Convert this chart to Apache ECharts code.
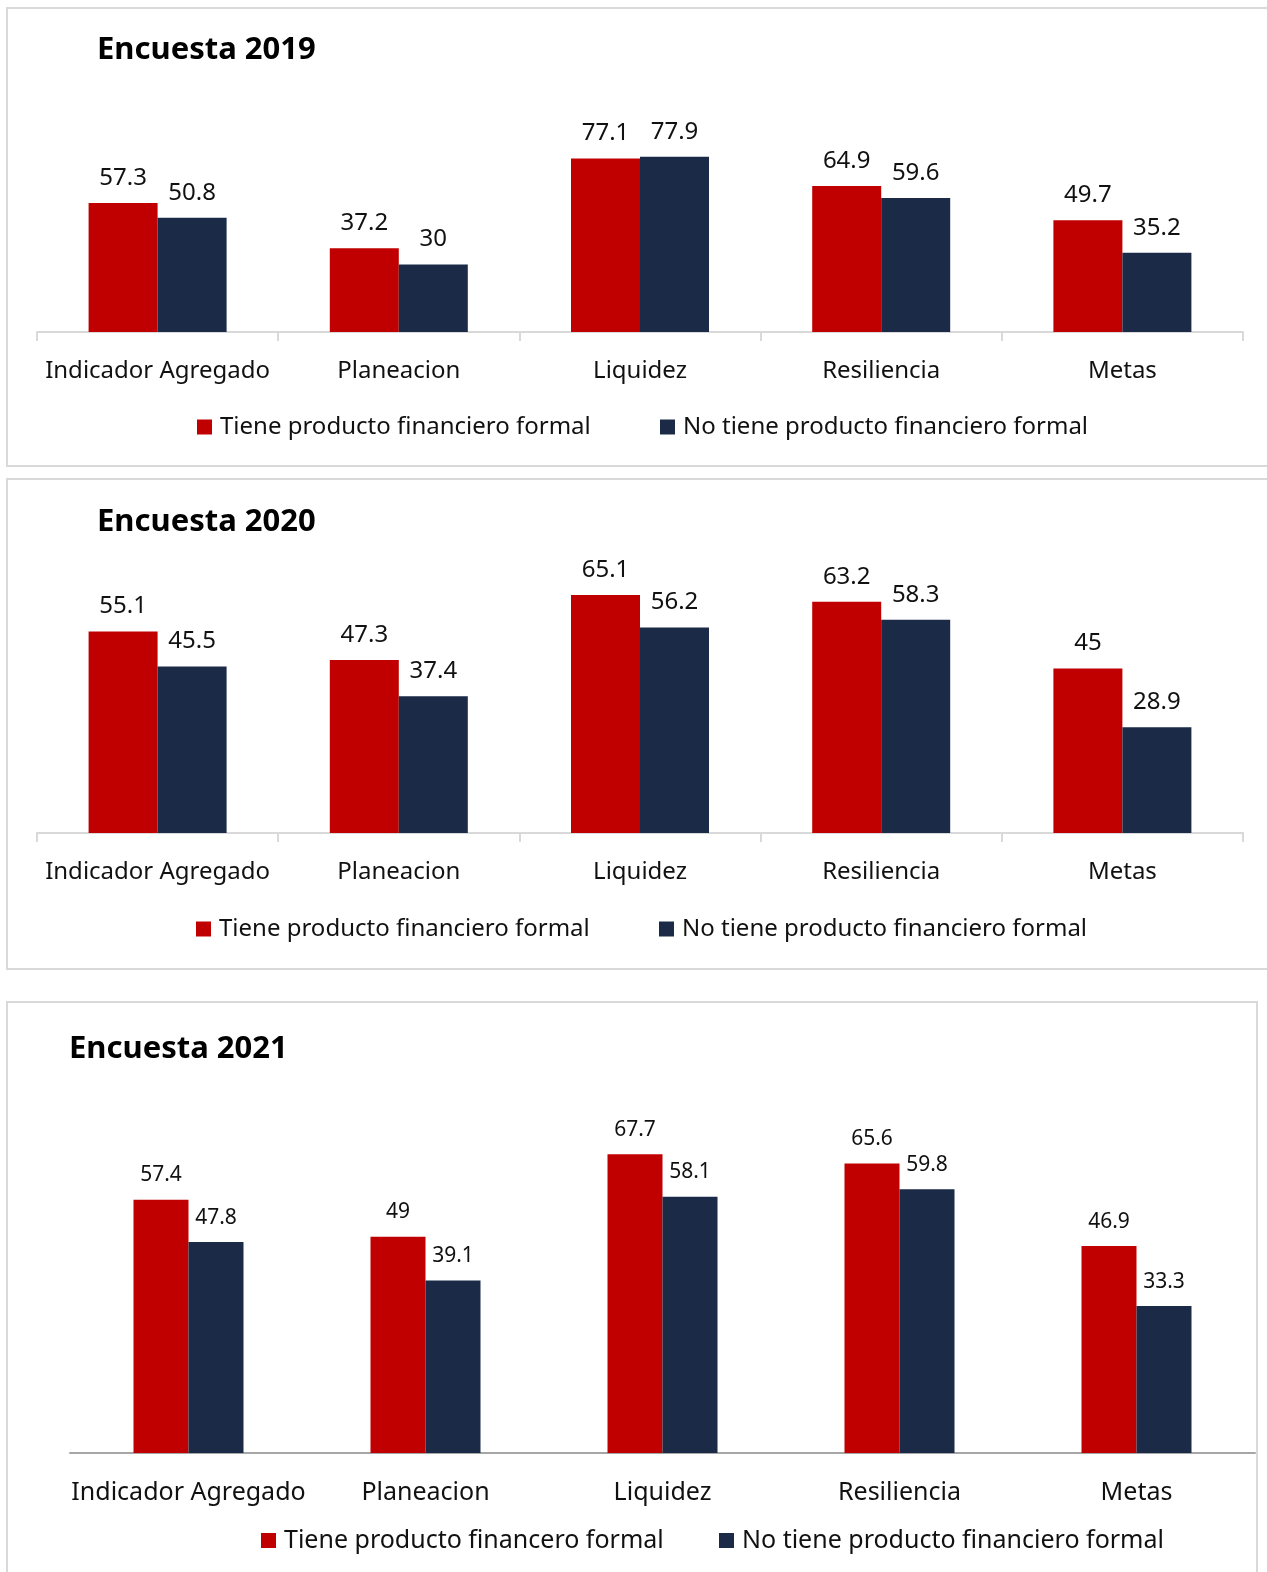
<!DOCTYPE html>
<html>
<head>
<meta charset="utf-8">
<script src="https://cdn.jsdelivr.net/npm/echarts@6/dist/echarts.min.js"></script>
<style>
  html, body { margin: 0; padding: 0; background: #ffffff; overflow: hidden; }
  body { width: 1267px; height: 1572px; position: relative; }
  .frame { position: absolute; border: 2px solid #d9d9d9; box-sizing: border-box; }
  .chart { position: absolute; left: 0; width: 1267px; }
</style>
</head>
<body>
<div class="frame" style="left:6px; top:7px; width:1300px; height:460px;"></div>
<div class="frame" style="left:6px; top:478px; width:1300px; height:492px;"></div>
<div class="frame" style="left:6px; top:1001px; width:1252px; height:620px;"></div>
<div id="chart2019" class="chart" style="top:0px; height:470px;"></div>
<div id="chart2020" class="chart" style="top:470px; height:500px;"></div>
<div id="chart2021" class="chart" style="top:990px; height:582px;"></div>
<script>
// categorias y valores
const categories = ['Indicador Agregado', 'Planeacion', 'Liquidez', 'Resiliencia', 'Metas'];

const tiene2019 = [57.3, 37.2, 77.1, 64.9, 49.7];
const noTiene2019 = [50.8, 30, 77.9, 59.6, 35.2];

const tiene2020 = [55.1, 47.3, 65.1, 63.2, 45];
const noTiene2020 = [45.5, 37.4, 56.2, 58.3, 28.9];

const tiene2021 = [57.4, 49, 67.7, 65.6, 46.9];
const noTiene2021 = [47.8, 39.1, 58.1, 59.8, 33.3];

const nameTiene = 'Tiene producto financiero formal';
const nameNoTiene = 'No tiene producto financiero formal';
const nameTiene2021 = 'Tiene producto financero formal'; // asi aparece en la leyenda de 2021

const RED = '#C00000';
const NAVY = '#1B2A47';
const FONT = '"Noto Sans", sans-serif';

const buildOption = (cfg) => ({
  animation: false,
  textStyle: { fontFamily: FONT },
  title: {
    text: cfg.title,
    left: cfg.titleLeft,
    top: cfg.titleTop,
    padding: 0,
    textStyle: { fontFamily: FONT, fontSize: 31, fontWeight: 'bold', color: '#000' }
  },
  legend: [
    {
      data: [cfg.names[0]],
      left: cfg.legendLeft[0],
      top: cfg.legendTop,
      padding: 0,
      icon: 'rect',
      itemWidth: 15,
      itemHeight: 15,
      textStyle: { fontFamily: FONT, fontSize: cfg.legendSize, color: '#111', padding: [0, 0, 0, 3] }
    },
    {
      data: [cfg.names[1]],
      left: cfg.legendLeft[1],
      top: cfg.legendTop,
      padding: 0,
      icon: 'rect',
      itemWidth: 15,
      itemHeight: 15,
      textStyle: { fontFamily: FONT, fontSize: cfg.legendSize, color: '#111', padding: [0, 0, 0, 3] }
    }
  ],
  grid: cfg.grid,
  xAxis: {
    type: 'category',
    data: categories,
    axisLine: { lineStyle: { color: cfg.axisColor, width: 2 } },
    axisTick: { show: cfg.ticks, length: 9, lineStyle: { color: '#d9d9d9', width: 2 } },
    axisLabel: { color: '#111', fontFamily: FONT, fontSize: cfg.catSize, margin: cfg.catMargin, interval: 0 }
  },
  yAxis: {
    type: 'value',
    min: 0,
    max: cfg.max,
    show: false,
    splitLine: { show: false }
  },
  series: [
    {
      name: cfg.names[0],
      type: 'bar',
      data: cfg.tiene,
      barWidth: cfg.barWidth,
      barGap: '0%',
      itemStyle: { color: RED },
      label: { show: true, position: 'top', distance: cfg.labelDist, color: '#111', fontFamily: FONT, fontSize: cfg.labelSize }
    },
    {
      name: cfg.names[1],
      type: 'bar',
      data: cfg.noTiene,
      barWidth: cfg.barWidth,
      barGap: '0%',
      itemStyle: { color: NAVY },
      label: { show: true, position: 'top', distance: cfg.labelDist, color: '#111', fontFamily: FONT, fontSize: cfg.labelSize }
    }
  ]
});

const chart2019 = echarts.init(document.getElementById('chart2019'));
chart2019.setOption(buildOption({
  title: 'Encuesta 2019', titleLeft: 97, titleTop: 35,
  names: [nameTiene, nameNoTiene],
  legendLeft: [197, 660], legendTop: 415, legendSize: 24,
  grid: { left: 37, right: 24, top: 107, bottom: 138 },
  axisColor: '#d9d9d9', ticks: true,
  catSize: 24, catMargin: 27,
  max: 100, barWidth: 69,
  labelDist: 13, labelSize: 24,
  tiene: tiene2019, noTiene: noTiene2019
}));

const chart2020 = echarts.init(document.getElementById('chart2020'));
chart2020.setOption(buildOption({
  title: 'Encuesta 2020', titleLeft: 97, titleTop: 37,
  names: [nameTiene, nameNoTiene],
  legendLeft: [196, 659], legendTop: 447, legendSize: 24,
  grid: { left: 37, right: 24, top: 107, bottom: 137 },
  axisColor: '#d9d9d9', ticks: true,
  catSize: 24, catMargin: 27,
  max: 70, barWidth: 69,
  labelDist: 13, labelSize: 24,
  tiene: tiene2020, noTiene: noTiene2020
}));

const chart2021 = echarts.init(document.getElementById('chart2021'));
chart2021.setOption(buildOption({
  title: 'Encuesta 2021', titleLeft: 69, titleTop: 44,
  names: [nameTiene2021, nameNoTiene],
  legendLeft: [261, 719], legendTop: 538, legendSize: 25,
  grid: { left: 70, right: 12, top: 110, bottom: 119 },
  axisColor: '#a6a6a6', ticks: false,
  catSize: 25, catMargin: 27,
  max: 80, barWidth: 55,
  labelDist: 14, labelSize: 21,
  tiene: tiene2021, noTiene: noTiene2021
}));
</script>
</body>
</html>
